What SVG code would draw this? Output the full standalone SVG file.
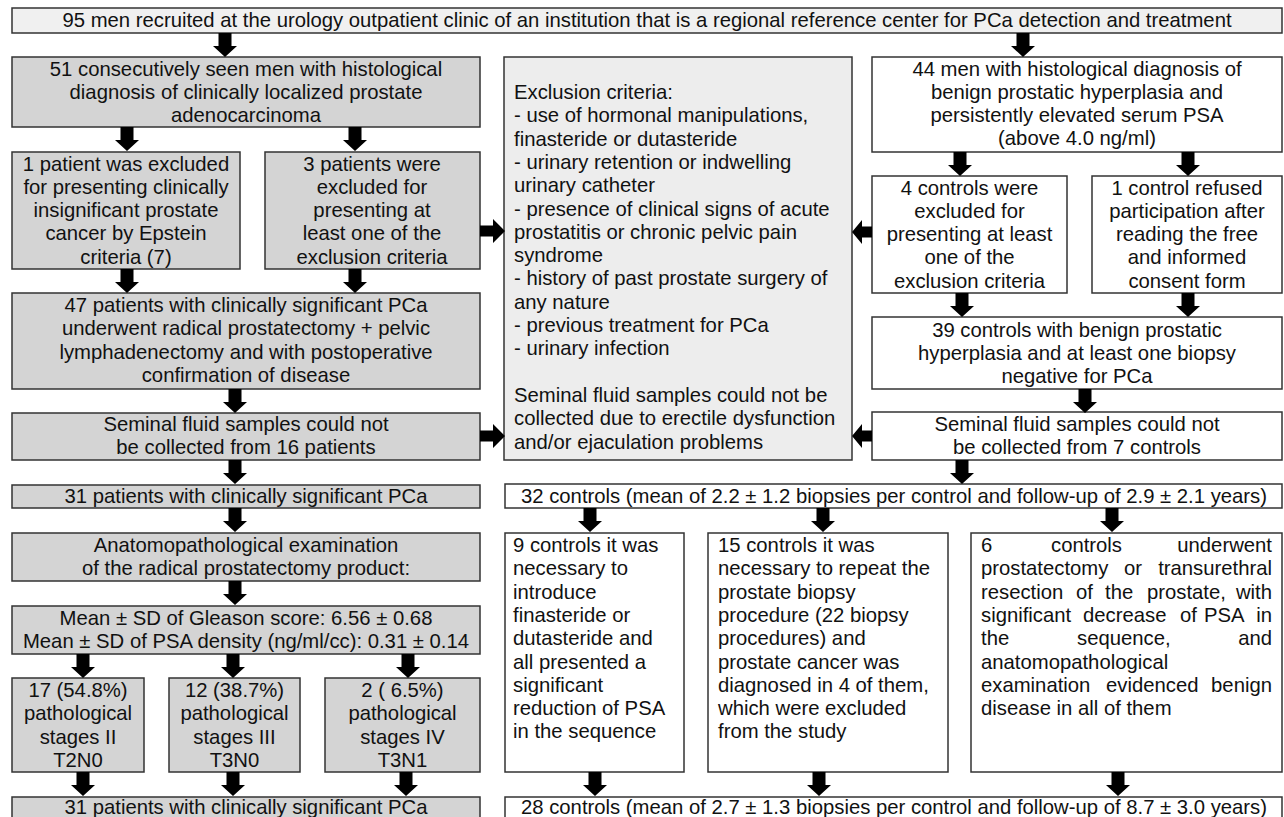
<svg xmlns="http://www.w3.org/2000/svg" xmlns:xlink="http://www.w3.org/1999/xlink" width="1284" height="817" viewBox="0 0 1284 817">
<defs>
<style>
rect{stroke:#333;stroke-width:1.5}
.g{fill:#d4d4d4}
.l{fill:#ededed}
.t{fill:#f0f0f0}
.w{fill:#fff}
text{font-family:"Liberation Sans",Arial,sans-serif;font-size:20.3px;fill:#111}
.c{text-anchor:middle}
.arr{fill:#000}
</style>
<path id="ad" d="M-6.5,0H6.5V13H12L0,24L-12,13H-6.5Z"/>
<path id="ar" d="M0,-5.5H13V-12L25,0L13,12V5.5H0Z"/>
<path id="al" d="M0,-5.5H-10V-12L-20,0L-10,12V5.5H0Z"/>
</defs>
<rect x="0" y="0" width="1284" height="817" fill="#fff" style="stroke:none"/>

<g id="n-top"><rect class="t" x="12" y="8" width="1270" height="25"/>
<text class="c" x="647" y="27">95 men recruited at the urology outpatient clinic of an institution that is a regional reference center for PCa detection and treatment</text></g>

<g id="n-51"><rect class="g" x="12" y="57" width="468" height="70"/>
<text class="c" x="246" y="75.5">51 consecutively seen men with histological</text>
<text class="c" x="246" y="98.8">diagnosis of clinically localized prostate</text>
<text class="c" x="246" y="122.1">adenocarcinoma</text></g>

<g id="n-1p"><rect class="g" x="12" y="152" width="228" height="117"/>
<text class="c" x="126" y="170.5">1 patient was excluded</text>
<text class="c" x="126" y="193.8">for presenting clinically</text>
<text class="c" x="126" y="217.1">insignificant prostate</text>
<text class="c" x="126" y="240.4">cancer by Epstein</text>
<text class="c" x="126" y="263.7">criteria (7)</text></g>

<g id="n-3p"><rect class="g" x="265" y="152" width="215" height="117"/>
<text class="c" x="372" y="170.5">3 patients were</text>
<text class="c" x="372" y="193.8">excluded for</text>
<text class="c" x="372" y="217.1">presenting at</text>
<text class="c" x="372" y="240.4">least one of the</text>
<text class="c" x="372" y="263.7">exclusion criteria</text></g>

<g id="n-47"><rect class="g" x="12" y="293" width="468" height="96"/>
<text class="c" x="246" y="312">47 patients with clinically significant PCa</text>
<text class="c" x="246" y="335.3">underwent radical prostatectomy + pelvic</text>
<text class="c" x="246" y="358.6">lymphadenectomy and with postoperative</text>
<text class="c" x="246" y="381.9">confirmation of disease</text></g>

<g id="n-sem16"><rect class="g" x="12" y="413" width="468" height="47"/>
<text class="c" x="246" y="430.5">Seminal fluid samples could not</text>
<text class="c" x="246" y="453.8">be collected from 16 patients</text></g>

<g id="n-31a"><rect class="g" x="12" y="485" width="468" height="23"/>
<text class="c" x="246" y="503">31 patients with clinically significant PCa</text></g>

<g id="n-anat"><rect class="g" x="12" y="533" width="468" height="48"/>
<text class="c" x="246" y="552">Anatomopathological examination</text>
<text class="c" x="246" y="575.3">of the radical prostatectomy product:</text></g>

<g id="n-mean"><rect class="g" x="12" y="606" width="468" height="48"/>
<text class="c" x="246" y="624.5">Mean ± SD of Gleason score: 6.56 ± 0.68</text>
<text class="c" x="246" y="647.8">Mean ± SD of PSA density (ng/ml/cc): 0.31 ± 0.14</text></g>

<g id="n-st2"><rect class="g" x="12" y="678" width="132" height="94"/>
<text class="c" x="78" y="697">17 (54.8%)</text>
<text class="c" x="78" y="720.3">pathological</text>
<text class="c" x="78" y="743.6">stages II</text>
<text class="c" x="78" y="766.9">T2N0</text></g>

<g id="n-st3"><rect class="g" x="169" y="678" width="131" height="94"/>
<text class="c" x="234.5" y="697">12 (38.7%)</text>
<text class="c" x="234.5" y="720.3">pathological</text>
<text class="c" x="234.5" y="743.6">stages III</text>
<text class="c" x="234.5" y="766.9">T3N0</text></g>

<g id="n-st4"><rect class="g" x="325" y="678" width="155" height="94"/>
<text class="c" x="402.5" y="697">2 ( 6.5%)</text>
<text class="c" x="402.5" y="720.3">pathological</text>
<text class="c" x="402.5" y="743.6">stages IV</text>
<text class="c" x="402.5" y="766.9">T3N1</text></g>

<g id="n-31b"><rect class="g" x="12" y="797" width="468" height="32"/>
<text class="c" x="246" y="814">31 patients with clinically significant PCa</text></g>

<g id="n-excl"><rect class="l" x="504" y="57" width="348" height="403"/>
<text x="514" y="99">Exclusion criteria:</text>
<text x="514" y="122.3">- use of hormonal manipulations,</text>
<text x="514" y="145.6">finasteride or dutasteride</text>
<text x="514" y="168.9">- urinary retention or indwelling</text>
<text x="514" y="192.2">urinary catheter</text>
<text x="514" y="215.5">- presence of clinical signs of acute</text>
<text x="514" y="238.8">prostatitis or chronic pelvic pain</text>
<text x="514" y="262.1">syndrome</text>
<text x="514" y="285.4">- history of past prostate surgery of</text>
<text x="514" y="308.7">any nature</text>
<text x="514" y="332">- previous treatment for PCa</text>
<text x="514" y="355.3">- urinary infection</text>
<text x="514" y="401.9">Seminal fluid samples could not be</text>
<text x="514" y="425.2">collected due to erectile dysfunction</text>
<text x="514" y="448.5">and/or ejaculation problems</text></g>

<g id="n-44"><rect class="w" x="872" y="57" width="410" height="95"/>
<text class="c" x="1077" y="75.5">44 men with histological diagnosis of</text>
<text class="c" x="1077" y="98.8">benign prostatic hyperplasia and</text>
<text class="c" x="1077" y="122.1">persistently elevated serum PSA</text>
<text class="c" x="1077" y="145.4">(above 4.0 ng/ml)</text></g>

<g id="n-4c"><rect class="w" x="872" y="176" width="195" height="117"/>
<text class="c" x="969.5" y="194.5">4 controls were</text>
<text class="c" x="969.5" y="217.8">excluded for</text>
<text class="c" x="969.5" y="241.1">presenting at least</text>
<text class="c" x="969.5" y="264.4">one of the</text>
<text class="c" x="969.5" y="287.7">exclusion criteria</text></g>

<g id="n-1c"><rect class="w" x="1092" y="176" width="190" height="117"/>
<text class="c" x="1187" y="194.5">1 control refused</text>
<text class="c" x="1187" y="217.8">participation after</text>
<text class="c" x="1187" y="241.1">reading the free</text>
<text class="c" x="1187" y="264.4">and informed</text>
<text class="c" x="1187" y="287.7">consent form</text></g>

<g id="n-39"><rect class="w" x="872" y="317" width="410" height="72"/>
<text class="c" x="1077" y="336.5">39 controls with benign prostatic</text>
<text class="c" x="1077" y="359.8">hyperplasia and at least one biopsy</text>
<text class="c" x="1077" y="383.1">negative for PCa</text></g>

<g id="n-sem7"><rect class="w" x="872" y="412" width="410" height="48"/>
<text class="c" x="1077" y="430.5">Seminal fluid samples could not</text>
<text class="c" x="1077" y="453.8">be collected from 7 controls</text></g>

<g id="n-32"><rect class="w" x="505" y="484" width="777" height="24"/>
<text class="c" x="894" y="503">32 controls (mean of 2.2 ± 1.2 biopsies per control and follow-up of 2.9 ± 2.1 years)</text></g>

<g id="n-9c"><rect class="w" x="505" y="533" width="179" height="239"/>
<text x="513" y="552">9 controls it was</text>
<text x="513" y="575.3">necessary to</text>
<text x="513" y="598.6">introduce</text>
<text x="513" y="621.9">finasteride or</text>
<text x="513" y="645.2">dutasteride and</text>
<text x="513" y="668.5">all presented a</text>
<text x="513" y="691.8">significant</text>
<text x="513" y="715.1">reduction of PSA</text>
<text x="513" y="738.4">in the sequence</text></g>

<g id="n-15c"><rect class="w" x="708" y="533" width="240" height="239"/>
<text x="718" y="552">15 controls it was</text>
<text x="718" y="575.3">necessary to repeat the</text>
<text x="718" y="598.6">prostate biopsy</text>
<text x="718" y="621.9">procedure (22 biopsy</text>
<text x="718" y="645.2">procedures) and</text>
<text x="718" y="668.5">prostate cancer was</text>
<text x="718" y="691.8">diagnosed in 4 of them,</text>
<text x="718" y="715.1">which were excluded</text>
<text x="718" y="738.4">from the study</text></g>

<g id="n-6c"><rect class="w" x="971" y="533" width="311" height="239"/>
<text y="552"><tspan x="981">6</tspan><tspan x="1051">controls</tspan><tspan x="1272" text-anchor="end">underwent</tspan></text>
<text y="575.3"><tspan x="981">prostatectomy</tspan><tspan x="1124">or</tspan><tspan x="1272" text-anchor="end">transurethral</tspan></text>
<text y="598.6"><tspan x="981">resection</tspan><tspan x="1076">of</tspan><tspan x="1105">the</tspan><tspan x="1147">prostate,</tspan><tspan x="1272" text-anchor="end">with</tspan></text>
<text y="621.9"><tspan x="981">significant</tspan><tspan x="1083">decrease</tspan><tspan x="1180">of</tspan><tspan x="1204">PSA</tspan><tspan x="1272" text-anchor="end">in</tspan></text>
<text y="645.2"><tspan x="981">the</tspan><tspan x="1077">sequence,</tspan><tspan x="1272" text-anchor="end">and</tspan></text>
<text x="981" y="668.5">anatomopathological</text>
<text y="691.8"><tspan x="981">examination</tspan><tspan x="1106">evidenced</tspan><tspan x="1272" text-anchor="end">benign</tspan></text>
<text x="981" y="715.1">disease in all of them</text></g>

<g id="n-28"><rect class="w" x="505" y="797" width="777" height="32"/>
<text class="c" x="894" y="814">28 controls (mean of 2.7 ± 1.3 biopsies per control and follow-up of 8.7 ± 3.0 years)</text></g>

<g id="connectors" class="arr">
<use xlink:href="#ad" x="225" y="33"/>
<use xlink:href="#ad" x="1023" y="33"/>
<use xlink:href="#ad" x="127" y="127"/>
<use xlink:href="#ad" x="355" y="127"/>
<use xlink:href="#ad" x="960" y="152"/>
<use xlink:href="#ad" x="1188" y="152"/>
<use xlink:href="#ad" x="127" y="269"/>
<use xlink:href="#ad" x="355" y="269"/>
<use xlink:href="#ad" x="962" y="293"/>
<use xlink:href="#ad" x="1188" y="293"/>
<use xlink:href="#ad" x="235" y="389"/>
<use xlink:href="#ad" x="1085" y="389"/>
<use xlink:href="#ad" x="235" y="460"/>
<use xlink:href="#ad" x="962" y="460"/>
<use xlink:href="#ad" x="235" y="508"/>
<use xlink:href="#ad" x="590" y="508"/>
<use xlink:href="#ad" x="823" y="508"/>
<use xlink:href="#ad" x="1112" y="508"/>
<use xlink:href="#ad" x="235" y="581"/>
<use xlink:href="#ad" x="83" y="654"/>
<use xlink:href="#ad" x="233" y="654"/>
<use xlink:href="#ad" x="408" y="654"/>
<use xlink:href="#ad" x="83" y="772"/>
<use xlink:href="#ad" x="233" y="772"/>
<use xlink:href="#ad" x="406" y="772"/>
<use xlink:href="#ad" x="595" y="772"/>
<use xlink:href="#ad" x="819" y="772"/>
<use xlink:href="#ad" x="1118" y="772"/>
<use xlink:href="#ar" x="480" y="231"/>
<use xlink:href="#ar" x="480" y="436"/>
<use xlink:href="#al" x="872" y="232"/>
<use xlink:href="#al" x="872" y="436"/>
</g>
</svg>
